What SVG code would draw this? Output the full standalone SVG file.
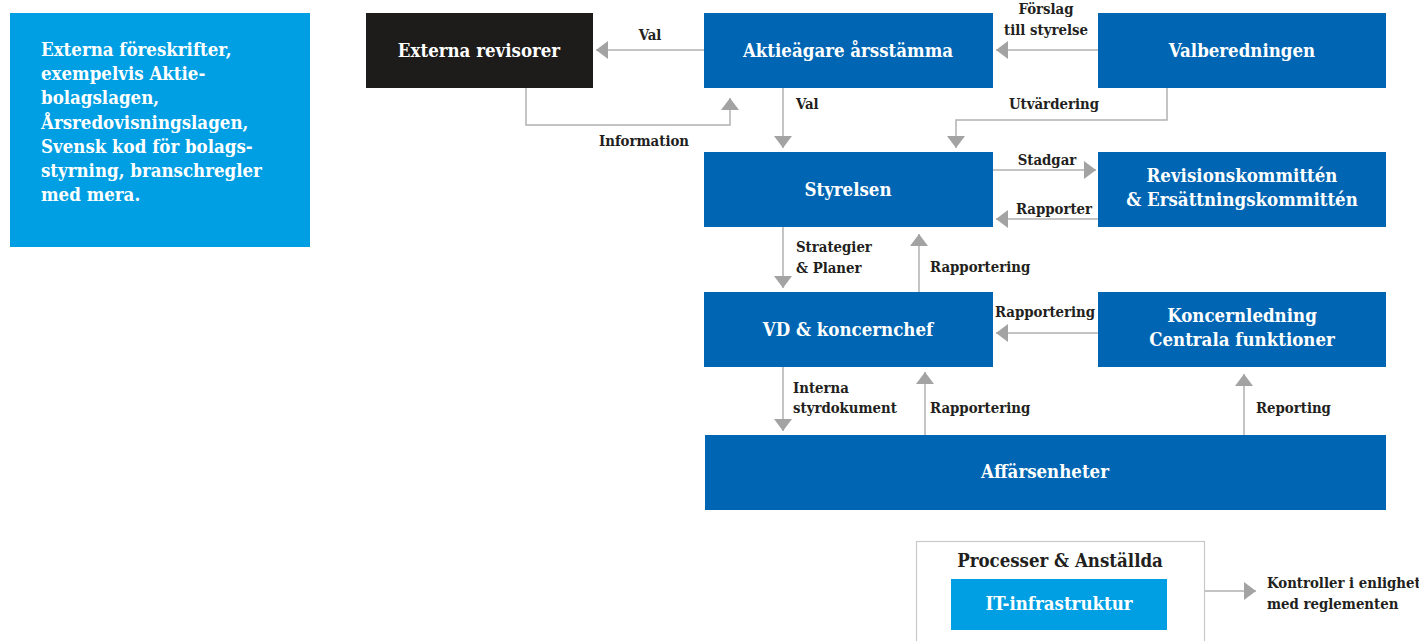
<svg xmlns="http://www.w3.org/2000/svg" width="1419" height="641" viewBox="0 0 1419 641">
<defs>
<style>
.n{fill:#0066b3}
.t{font-family:"DejaVu Serif Condensed","DejaVu Serif","Liberation Serif",serif;font-weight:bold;fill:#fff;font-size:18.5px;text-anchor:middle}
.l{font-family:"DejaVu Serif Condensed","DejaVu Serif","Liberation Serif",serif;font-weight:bold;fill:#231f20;font-size:14.8px}
.c{fill:none;stroke:#b1b1b1;stroke-width:1.5}
</style>
<marker id="ah" markerUnits="userSpaceOnUse" markerWidth="12" markerHeight="18" refX="12" refY="9" orient="auto" viewBox="0 0 12 18">
<path d="M0,0 L12,9 L0,18 z" fill="#a3a3a3"/>
</marker>
</defs>
<rect width="1419" height="641" fill="#fff"/>

<g id="externa-foreskrifter">
<rect x="10" y="13" width="300" height="234" fill="#009fe3"/>
<text class="t" style="text-anchor:start" x="41">
<tspan x="41" y="56">Externa föreskrifter,</tspan>
<tspan x="41" y="80">exempelvis Aktie-</tspan>
<tspan x="41" y="104">bolagslagen,</tspan>
<tspan x="41" y="129">Årsredovisningslagen,</tspan>
<tspan x="41" y="153">Svensk kod för bolags-</tspan>
<tspan x="41" y="177">styrning, branschregler</tspan>
<tspan x="41" y="201">med mera.</tspan>
</text>
</g>

<g id="connectors">
<line class="c" x1="704" y1="50" x2="596" y2="50" marker-end="url(#ah)"/>
<text class="l" x="650" y="40" text-anchor="middle">Val</text>
<polyline class="c" points="526,88 526,125 730,125 730,98" marker-end="url(#ah)"/>
<text class="l" x="644" y="146" text-anchor="middle">Information</text>
<line class="c" x1="1098" y1="50" x2="996" y2="50" marker-end="url(#ah)"/>
<text class="l" x="1046" y="14" text-anchor="middle">Förslag</text>
<text class="l" x="1046" y="35" text-anchor="middle">till styrelse</text>
<line class="c" x1="783" y1="88" x2="783" y2="148" marker-end="url(#ah)"/>
<text class="l" x="796" y="109">Val</text>
<polyline class="c" points="1167,88 1167,120 956,120 956,148" marker-end="url(#ah)"/>
<text class="l" x="1054" y="109" text-anchor="middle">Utvärdering</text>
<line class="c" x1="993" y1="170" x2="1096" y2="170" marker-end="url(#ah)"/>
<text class="l" x="1047" y="165" text-anchor="middle">Stadgar</text>
<line class="c" x1="1098" y1="219" x2="996" y2="219" marker-end="url(#ah)"/>
<text class="l" x="1054" y="214" text-anchor="middle">Rapporter</text>
<line class="c" x1="783" y1="227" x2="783" y2="288" marker-end="url(#ah)"/>
<text class="l" x="796" y="252">Strategier</text>
<text class="l" x="796" y="273">&amp; Planer</text>
<line class="c" x1="919" y1="292" x2="919" y2="234" marker-end="url(#ah)"/>
<text class="l" x="930" y="272">Rapportering</text>
<line class="c" x1="1098" y1="333" x2="996" y2="333" marker-end="url(#ah)"/>
<text class="l" x="1045" y="317" text-anchor="middle">Rapportering</text>
<line class="c" x1="783" y1="367" x2="783" y2="431" marker-end="url(#ah)"/>
<text class="l" x="793" y="393">Interna</text>
<text class="l" x="793" y="413">styrdokument</text>
<line class="c" x1="925" y1="435" x2="925" y2="372" marker-end="url(#ah)"/>
<text class="l" x="930" y="413">Rapportering</text>
<line class="c" x1="1244" y1="435" x2="1244" y2="374" marker-end="url(#ah)"/>
<text class="l" x="1256" y="413">Reporting</text>
<line class="c" x1="1204" y1="591" x2="1256" y2="591" marker-end="url(#ah)"/>
<text class="l" x="1267" y="588">Kontroller i enlighet</text>
<text class="l" x="1267" y="609">med reglementen</text>
</g>

<g id="externa-revisorer">
<rect x="366" y="13" width="227" height="75" fill="#1d1c1a"/>
<text class="t" x="479" y="57">Externa revisorer</text>
</g>
<g id="aktieagare">
<rect class="n" x="704" y="13" width="289" height="75"/>
<text class="t" x="848" y="57">Aktieägare årsstämma</text>
</g>
<g id="valberedningen">
<rect class="n" x="1098" y="13" width="288" height="75"/>
<text class="t" x="1242" y="57">Valberedningen</text>
</g>
<g id="styrelsen">
<rect class="n" x="704" y="152" width="289" height="75"/>
<text class="t" x="848" y="196">Styrelsen</text>
</g>
<g id="revisionskommitten">
<rect class="n" x="1098" y="152" width="288" height="75"/>
<text class="t" x="1242" y="182">Revisionskommittén</text>
<text class="t" x="1242" y="206">&amp; Ersättningskommittén</text>
</g>
<g id="vd">
<rect class="n" x="704" y="292" width="289" height="75"/>
<text class="t" x="848" y="336">VD &amp; koncernchef</text>
</g>
<g id="koncernledning">
<rect class="n" x="1098" y="292" width="288" height="75"/>
<text class="t" x="1242" y="322">Koncernledning</text>
<text class="t" x="1242" y="346">Centrala funktioner</text>
</g>
<g id="affarsenheter">
<rect class="n" x="705" y="435" width="681" height="75"/>
<text class="t" x="1045" y="478">Affärsenheter</text>
</g>
<g id="processer">
<rect x="916.5" y="541.5" width="288" height="110" fill="#fff" stroke="#c8c8c8" stroke-width="1.2"/>
<text class="t" x="1060" y="567" style="fill:#231f20">Processer &amp; Anställda</text>
</g>
<g id="it-infrastruktur">
<rect x="951" y="579" width="216" height="51" fill="#009fe3"/>
<text class="t" x="1059" y="610">IT-infrastruktur</text>
</g>
</svg>
